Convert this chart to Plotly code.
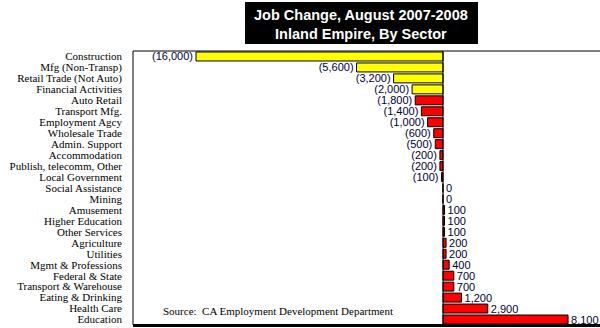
import plotly.graph_objects as go

categories = ["Construction", "Mfg (Non-Transp)", "Retail Trade (Not Auto)", "Financial Activities",
              "Auto Retail", "Transport Mfg.", "Employment Agcy", "Wholesale Trade", "Admin. Support",
              "Accommodation", "Publish, telecomm, Other", "Local Government", "Social Assistance",
              "Mining", "Amusement", "Higher Education", "Other Services", "Agriculture", "Utilities",
              "Mgmt & Professions", "Federal & State", "Transport & Warehouse", "Eating & Drinking",
              "Health Care", "Education"]
values = [-16000, -5600, -3200, -2000, -1800, -1400, -1000, -600, -500, -200, -200, -100, 0, 0,
          100, 100, 100, 200, 200, 400, 700, 700, 1200, 2900, 8100]
highlighted = 4  # first four bars are yellow

W, H = 600, 328
L, R, T, B = 133, 0, 51, 3
PW, PH = W - L - R, H - T - B


def px_x(px):
    return (px - L) / PW


def px_y(py):
    return (H - B - py) / PH


colors = ["#FFFF00" if i < highlighted else "#FF0000" for i in range(len(values))]
labels = [f"({abs(v):,})" if v < 0 else f"{v:,}" for v in values]

fig = go.Figure(go.Bar(
    y=categories, x=values, orientation="h",
    marker=dict(color=colors, line=dict(color="#000000", width=1)),
    text=labels, textposition="outside", cliponaxis=False, constraintext="none",
    textfont=dict(family="Liberation Sans", size=11, color="#000033"),
    width=0.82,
))

fig.update_layout(
    width=W, height=H,
    margin=dict(l=L, r=R, t=T, b=B),
    paper_bgcolor="white", plot_bgcolor="white",
    showlegend=False,
    xaxis=dict(range=[-20080, 10170], showgrid=False, zeroline=False, showticklabels=False,
               showline=False, ticks=""),
    yaxis=dict(autorange="reversed", showgrid=False, zeroline=False, showline=False, ticks="",
               tickmode="array", tickvals=categories, ticktext=categories,
               ticklabelstandoff=10,
               tickfont=dict(family="Liberation Serif", size=11, color="#000000")),
    shapes=[
        # title box
        dict(type="rect", xref="paper", yref="paper", x0=px_x(245), x1=px_x(478),
             y0=px_y(44), y1=px_y(2), fillcolor="#000000", line=dict(width=0), layer="above"),
        # frame
        dict(type="line", xref="paper", yref="paper", x0=0, x1=1.01, y0=1, y1=1,
             line=dict(color="#000000", width=1)),
        dict(type="line", xref="paper", yref="paper", x0=0, x1=0, y0=0, y1=1,
             line=dict(color="#000000", width=1)),
        dict(type="line", xref="paper", yref="paper", x0=0, x1=1.01, y0=px_y(325.5), y1=px_y(325.5),
             line=dict(color="#000000", width=3)),
        # zero line
        dict(type="line", xref="x", yref="paper", x0=0, x1=0, y0=0, y1=1,
             line=dict(color="#000000", width=1)),
    ],
    annotations=[
        dict(text="<b>Job Change, August 2007-2008<br>Inland Empire, By Sector</b>",
             xref="paper", yref="paper", x=px_x(361), y=px_y(24), xanchor="center", yanchor="middle",
             showarrow=False, font=dict(family="Liberation Sans", size=14.5, color="#FFFFFF")),
        dict(text="Source:  CA Employment Development Department",
             xref="paper", yref="paper", x=px_x(161), y=px_y(311), xanchor="left", yanchor="middle",
             showarrow=False, font=dict(family="Liberation Serif", size=11, color="#000000")),
    ],
)

fig.write_html("out.html")
